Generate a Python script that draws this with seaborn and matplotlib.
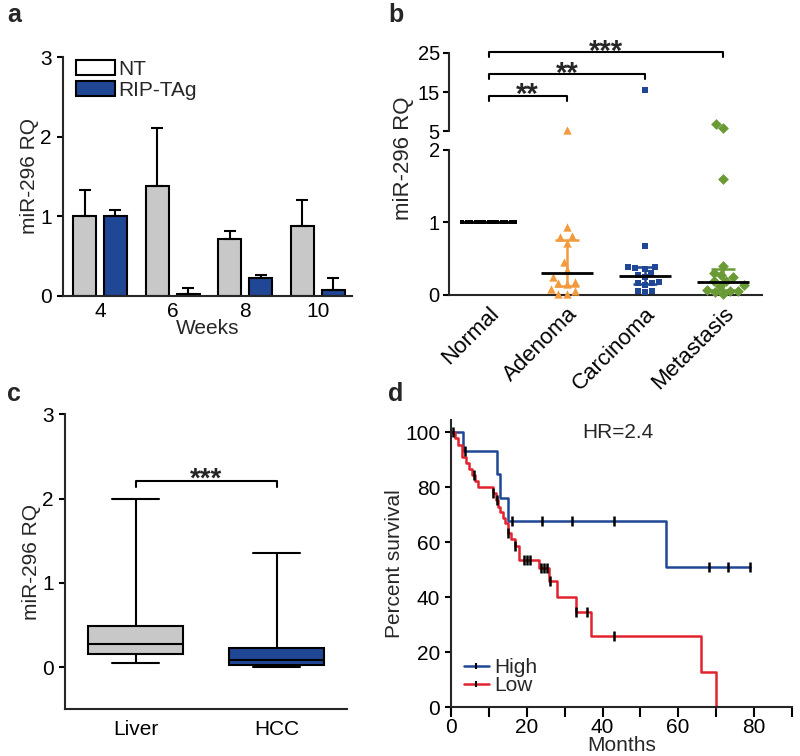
import numpy as np
import pandas as pd
import matplotlib
matplotlib.use('Agg')
import matplotlib.pyplot as plt
import seaborn as sns
from matplotlib.patches import Patch
from matplotlib.lines import Line2D
from matplotlib.ticker import MultipleLocator

# ---- panel a: miR-296 RQ by age (weeks) ----
weeks = ['4', '6', '8', '10']
nt_rq = [1.00, 1.38, 0.72, 0.88]
nt_sd = [0.33, 0.73, 0.09, 0.32]
rip_rq = [1.00, 0.03, 0.22, 0.07]
rip_sd = [0.08, 0.07, 0.04, 0.16]

# ---- panel b: miR-296 RQ by tumour stage ----
stages = ['Normal', 'Adenoma', 'Carcinoma', 'Metastasis']
normal_rq = [1.00, 1.00, 1.00, 1.00, 1.00, 1.00, 1.00, 1.00, 1.00, 1.00, 1.00, 1.00, 1.00]
adenoma_rq = [5.2, 0.94, 0.81, 0.80, 0.72, 0.45, 0.34, 0.25, 0.18, 0.16, 0.15, 0.08, 0.06, 0.01, 0.01]
carcinoma_rq = [15.5, 0.68, 0.39, 0.38, 0.37, 0.36, 0.30, 0.28, 0.25, 0.18, 0.17, 0.16, 0.14, 0.06, 0.05, 0.04]
metastasis_rq = [6.8, 5.9, 1.6, 0.40, 0.31, 0.27, 0.25, 0.19, 0.19, 0.14, 0.12, 0.07, 0.06, 0.06, 0.04, 0.02]
stage_median = [1.00, 0.30, 0.26, 0.18]
stage_q1 = [1.00, 0.12, 0.15, 0.07]
stage_q3 = [1.00, 0.76, 0.38, 0.36]
stage_stars = ['**', '**', '***']

# ---- panel c: liver vs HCC (min, q1, median, q3, max) ----
tissues = ['Liver', 'HCC']
liver_box = [0.05, 0.15, 0.28, 0.49, 2.00]
hcc_box = [0.00, 0.02, 0.08, 0.23, 1.35]

# ---- panel d: survival curves (months, percent) ----
high_t = [0, 3.1, 12.0, 12.8, 15.1, 56.9, 79.0]
high_s = [100, 93.3, 84.8, 76.3, 67.8, 50.9, 50.9]
high_cens = [3.7, 16.0, 24.1, 32.0, 43.1, 68.2, 73.2, 78.9]
low_t = [0, 0.9, 1.9, 2.8, 3.8, 4.6, 5.4, 6.3, 7.2, 11.0, 11.9, 12.5, 12.9, 13.6,
         14.2, 14.9, 15.8, 16.9, 17.8, 23.3, 25.9, 27.9, 33.0, 36.9, 66.1, 70.1]
low_s = [100, 97.8, 95.6, 91.1, 88.9, 86.7, 84.4, 82.2, 80.0, 77.8, 75.4, 72.8, 70.9, 69.0,
         67.0, 63.5, 61.3, 58.6, 53.7, 50.5, 46.0, 40.2, 34.5, 25.9, 12.9, 0.0]
low_cens = [0.6, 5.9, 11.0, 12.0, 15.0, 16.9, 19.2, 20.0, 20.8, 23.8, 24.5, 25.2, 26.0, 33.0, 36.0, 43.1]

grey = '#c8c8c8'
navy = '#1f4796'
orange = '#f29a3e'
green = '#6a9a35'
red = '#e2222e'

sns.set_style('ticks')
plt.rcParams['font.family'] = ['Liberation Sans', 'DejaVu Sans']
plt.rcParams['axes.linewidth'] = 1.5
for k in ['xtick', 'ytick']:
    plt.rcParams[k + '.major.width'] = 1.5
    plt.rcParams[k + '.minor.width'] = 1.5
    plt.rcParams[k + '.major.size'] = 4.5
    plt.rcParams[k + '.minor.size'] = 4.5
    plt.rcParams[k + '.labelsize'] = 15
    plt.rcParams[k + '.color'] = 'black'
plt.rcParams['axes.labelsize'] = 15

fig = plt.figure(figsize=(8, 7.56), dpi=100)

# ---------------- panel a ----------------
ax_a = fig.add_axes([0.0788, 0.6085, 0.3612, 0.3161])
df_a = pd.DataFrame({'week': weeks + weeks,
                     'rq': nt_rq + rip_rq,
                     'group': ['NT'] * len(weeks) + ['RIP-TAg'] * len(weeks)})
sns.barplot(data=df_a, x='week', y='rq', hue='group', palette={'NT': grey, 'RIP-TAg': navy},
            width=0.85, gap=0.25, errorbar=None, edgecolor='black', linewidth=1.5,
            saturation=1, legend=False, ax=ax_a)
for cont, sd in zip(ax_a.containers, [nt_sd, rip_sd]):
    xs = [p.get_x() + p.get_width() / 2 for p in cont]
    hs = [p.get_height() for p in cont]
    ax_a.errorbar(xs, hs, yerr=[np.zeros(len(sd)), sd], fmt='none', ecolor='black',
                  elinewidth=1.5, capsize=4.3, capthick=1.5, zorder=3)
ax_a.set_ylim(0, 3)
ax_a.set_yticks([0, 1, 2, 3])
ax_a.set_xlim(-0.51, 3.47)
ax_a.tick_params(axis='x', length=0, pad=4)
ax_a.set_xlabel('Weeks', labelpad=-1)
ax_a.set_ylabel('miR-296 RQ', labelpad=1)
sns.despine(ax=ax_a)
handles = [Patch(facecolor='white', edgecolor='black', linewidth=1.5, label='NT'),
           Patch(facecolor=navy, edgecolor='black', linewidth=1.5, label='RIP-TAg')]
ax_a.legend(handles=handles, loc='upper left', bbox_to_anchor=(0.0, 1.04), frameon=False,
            fontsize=15, handlelength=1.9, handleheight=0.72, handletextpad=0.15,
            labelspacing=0.1, borderaxespad=0.2)

# ---------------- panel b ----------------
ax_blo = fig.add_axes([0.561, 0.6098, 0.3915, 0.1918])
ax_bhi = fig.add_axes([0.561, 0.8267, 0.3915, 0.1032])
stage_vals = [normal_rq, adenoma_rq, carcinoma_rq, metastasis_rq]
stage_colors = ['black', orange, navy, green]
stage_markers = ['s', '^', 's', 'D']
stage_sizes = [3.0, 6.0, 5.0, 5.5]
for stage, vals, col, mk, sz in zip(stages, stage_vals, stage_colors, stage_markers, stage_sizes):
    sub = pd.DataFrame({'stage': stage, 'rq': vals})
    lo = sub[sub['rq'] <= 2]
    hi = sub[sub['rq'] >= 5]
    sns.swarmplot(data=lo, x='stage', y='rq', order=stages, color=col, marker=mk, size=sz,
                  linewidth=0, clip_on=False, zorder=3, ax=ax_blo)
    if len(hi):
        sns.swarmplot(data=hi, x='stage', y='rq', order=stages, color=col, marker=mk, size=sz,
                      linewidth=0, clip_on=False, zorder=3, ax=ax_bhi)

xpos = np.arange(len(stages))
ax_blo.hlines(stage_median, xpos - 0.335, xpos + 0.335, colors='black', lw=2, zorder=4)
for i in range(1, len(stages)):
    med = stage_median[i]
    ax_blo.errorbar(xpos[i], med, yerr=[[med - stage_q1[i]], [stage_q3[i] - med]], fmt='none',
                    ecolor=stage_colors[i], elinewidth=1.8, capsize=8.5, capthick=1.8, zorder=2)

for ax in [ax_blo, ax_bhi]:
    ax.set_xlim(-0.51, 3.5)
    ax.set_xlabel('')
    ax.set_ylabel('')
    ax.tick_params(axis='y', labelsize=14.5, pad=2)
ax_blo.set_ylim(0, 2)
ax_blo.set_yticks([0, 1, 2])
ax_blo.set_xticks(xpos)
ax_blo.set_xticklabels(stages, rotation=45, ha='right', rotation_mode='anchor', fontsize=16)
ax_blo.tick_params(axis='x', length=0, pad=6)
sns.despine(ax=ax_blo)

ax_bhi.set_ylim(5, 25)
ax_bhi.set_yticks([5, 15, 25])
ax_bhi.set_xticks([])
sns.despine(ax=ax_bhi, bottom=True)
bracket_y = [14.1, 19.7, 25.3]
for k, (y, stars) in enumerate(zip(bracket_y, stage_stars), start=1):
    ax_bhi.plot([0, 0, k, k], [y - 1.3, y, y, y - 1.3], color='black', lw=1.5, clip_on=False)
    ax_bhi.text(k / 2, y - 2.0, stars, ha='center', va='baseline', fontsize=21,
                fontweight='bold', clip_on=False)
fig.text(0.504, 1 - 158 / 756, 'miR-296 RQ', rotation=90, ha='center', va='center', fontsize=16)

# ---------------- panel c ----------------
ax_c = fig.add_axes([0.08125, 0.0618, 0.3525, 0.3902])
df_c = pd.DataFrame({'tissue': [tissues[0]] * len(liver_box) + [tissues[1]] * len(hcc_box),
                     'rq': liver_box + hcc_box})
sns.boxplot(data=df_c, x='tissue', y='rq', hue='tissue', palette={'Liver': grey, 'HCC': navy},
            width=0.67, whis=(0, 100), linewidth=1.5, linecolor='black', saturation=1,
            legend=False, ax=ax_c)
ax_c.set_ylim(-0.5, 3)
ax_c.set_yticks([0, 1, 2, 3])
ax_c.set_xlim(-0.5, 1.5)
ax_c.tick_params(axis='x', length=0, pad=8)
ax_c.set_xlabel('')
ax_c.set_ylabel('miR-296 RQ', labelpad=1)
sns.despine(ax=ax_c)
ax_c.plot([0, 0, 1, 1], [2.14, 2.21, 2.21, 2.14], color='black', lw=1.5)
ax_c.text(0.5, 2.14, '***', ha='center', va='baseline', fontsize=20, fontweight='bold')

# ---------------- panel d ----------------
ax_d = fig.add_axes([0.564, 0.0644, 0.4256, 0.38])
sns.lineplot(x=high_t, y=high_s, drawstyle='steps-post', color=navy, lw=1.8,
             estimator=None, sort=False, clip_on=False, ax=ax_d)
sns.lineplot(x=low_t, y=low_s, drawstyle='steps-post', color=red, lw=1.8,
             estimator=None, sort=False, clip_on=False, ax=ax_d)


def surv_at(times, surv, t):
    idx = np.searchsorted(times, t, side='right') - 1
    return np.asarray(surv)[idx]


for t_list, s_list, c_list in [(high_t, high_s, high_cens), (low_t, low_s, low_cens)]:
    ax_d.plot(c_list, surv_at(t_list, s_list, c_list), ls='none', marker='|', ms=7, mew=1.8,
              color='black', zorder=4)

ax_d.set_xlim(0, 90)
ax_d.set_ylim(0, 104.5)
ax_d.xaxis.set_major_locator(MultipleLocator(20))
ax_d.xaxis.set_minor_locator(MultipleLocator(10))
ax_d.set_yticks([0, 20, 40, 60, 80, 100])
ax_d.tick_params(axis='x', which='both', length=7, pad=1)
ax_d.set_xlabel('Months', labelpad=-1)
ax_d.set_ylabel('Percent survival', labelpad=1)
sns.despine(ax=ax_d)
ax_d.text(44, 100, 'HR=2.4', ha='center', va='center', fontsize=15)
leg_handles = [Line2D([0], [0], color=navy, lw=1.8, marker='|', mec='black', ms=5, mew=1.5, label='High'),
               Line2D([0], [0], color=red, lw=1.8, marker='|', mec='black', ms=5, mew=1.5, label='Low')]
ax_d.legend(handles=leg_handles, loc='lower left', bbox_to_anchor=(0.0, 0.0), frameon=False,
            fontsize=15, handlelength=1.2, handletextpad=0.25, labelspacing=-0.05,
            borderaxespad=0.2, numpoints=1)

# panel letters
for lab, x, y in [('a', 0.009, 0.971), ('b', 0.485, 0.971), ('c', 0.009, 0.469), ('d', 0.485, 0.469)]:
    fig.text(x, y, lab, fontsize=18, fontweight='bold', va='baseline', ha='left')

fig.savefig('out.png', dpi=100, facecolor='white')
